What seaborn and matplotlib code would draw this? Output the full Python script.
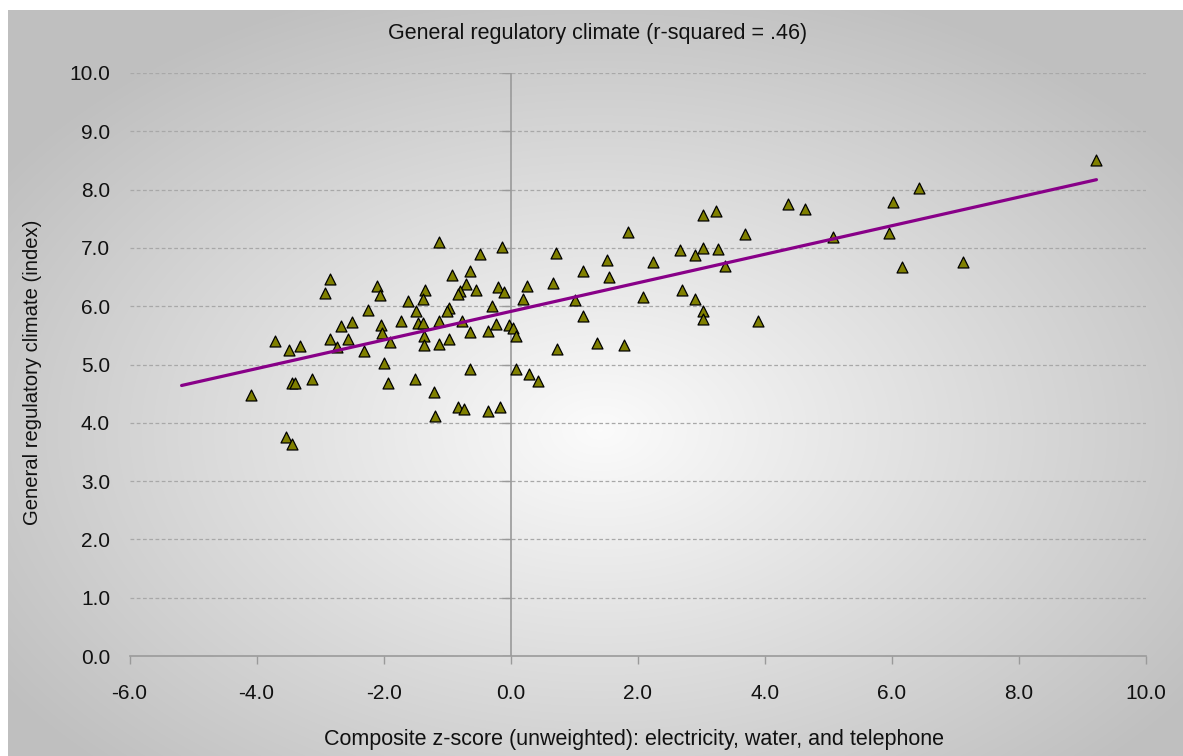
import numpy as np
import pandas as pd
import matplotlib
matplotlib.use("Agg")
import matplotlib.pyplot as plt
import seaborn as sns

# ---- data ----
x_score = [-1.13, -0.13, -0.48, -2.85, -2.92, -2.11, -2.06, -0.93, -0.64, -0.70,
           -0.79, -0.83, -0.54, -0.20, -0.10, -1.35, -1.38, -1.61, -2.25, -1.49,
           -0.97, -1.00, -0.30, -2.50, -2.67, -2.04, -2.02, -1.72, -1.46, -1.38,
           -1.13, -0.77, -1.37, -1.37, -1.13, -0.97, -0.64, -0.36, -0.23, -0.02,
           0.03, 0.09, -3.71, -3.49, -3.32, -2.85, -2.74, -2.56, -2.31, -1.90,
           -1.99, -1.93, -1.50, -1.20, -0.64, 0.09, -4.08, -3.44, -3.40, -3.12,
           -0.83, -0.73, -0.36, -0.17, -1.19, -3.53, -3.45,
           3.03, 3.23, 1.85, 3.69, 0.71, 2.66, 3.03, 3.26, 2.90, 1.51,
           2.24, 3.38, 1.14, 1.55, 0.26, 0.66, 0.19, 1.02, 2.09, 2.70,
           2.90, 3.03, 3.02, 1.14, 3.89, 0.73, 1.36, 1.79, 0.29, 0.43,
           9.21, 6.43, 4.36, 4.63, 6.01, 5.96, 5.07, 6.16, 7.12]
y_index = [7.10, 7.02, 6.89, 6.47, 6.22, 6.35, 6.19, 6.54, 6.61, 6.38,
           6.26, 6.21, 6.28, 6.33, 6.25, 6.28, 6.12, 6.09, 5.94, 5.91,
           5.97, 5.91, 6.00, 5.73, 5.66, 5.67, 5.54, 5.75, 5.72, 5.72,
           5.75, 5.75, 5.49, 5.33, 5.36, 5.44, 5.55, 5.57, 5.69, 5.67,
           5.62, 5.49, 5.40, 5.25, 5.32, 5.44, 5.30, 5.44, 5.24, 5.38,
           5.02, 4.69, 4.75, 4.53, 4.93, 4.93, 4.47, 4.69, 4.68, 4.75,
           4.27, 4.24, 4.20, 4.27, 4.12, 3.75, 3.63,
           7.56, 7.63, 7.28, 7.23, 6.91, 6.96, 6.99, 6.98, 6.88, 6.79,
           6.75, 6.69, 6.61, 6.50, 6.35, 6.39, 6.13, 6.11, 6.16, 6.27,
           6.12, 5.92, 5.78, 5.83, 5.75, 5.26, 5.37, 5.33, 4.83, 4.72,
           8.51, 8.02, 7.75, 7.66, 7.79, 7.26, 7.19, 6.68, 6.75]
trend_x = [-5.18, 9.22]
trend_y = [4.64, 8.17]
x_ticks = [-6.0, -4.0, -2.0, 0.0, 2.0, 4.0, 6.0, 8.0, 10.0]
y_ticks = [0.0, 1.0, 2.0, 3.0, 4.0, 5.0, 6.0, 7.0, 8.0, 9.0, 10.0]

title = "General regulatory climate (r-squared = .46)"
xlabel = "Composite z-score (unweighted): electricity, water, and telephone"
ylabel = "General regulatory climate (index)"

df = pd.DataFrame({"x": x_score, "y": y_index})
tdf = pd.DataFrame({"x": trend_x, "y": trend_y})

sns.set_theme(style="white")
plt.rcParams["font.family"] = ["Liberation Sans", "DejaVu Sans"]

W, H = 1183, 756
fig = plt.figure(figsize=(W / 100, H / 100), dpi=100)
fig.patch.set_facecolor("white")

# background radial gradient
bg = fig.add_axes([0, 0, 1, 1], zorder=-10)
yy, xx = np.mgrid[0:H, 0:W]
r = np.sqrt(((xx - 600) / 720.0) ** 2 + ((yy - 430) / 470.0) ** 2)
v = 0.985 - 0.235 * np.clip(r, 0, 1)
img = np.dstack([v, v, v])
img[:, :8, :] = 1.0
img[:10, :, :] = 1.0
bg.imshow(img, aspect="auto", extent=[0, W, H, 0], interpolation="bilinear")
bg.set_axis_off()

ax = fig.add_axes([129.5 / W, 1 - 656 / H, (1146 - 129.5) / W, (656 - 73) / H])
ax.set_facecolor("none")

sns.scatterplot(data=df, x="x", y="y", ax=ax, marker="^", s=62,
                color="#808000", edgecolor="black", linewidth=0.9, zorder=4)
sns.lineplot(data=tdf, x="x", y="y", ax=ax, color="#880088", linewidth=2.3,
             zorder=5, estimator=None, sort=False)

ax.set_xlim(-6, 10)
ax.set_ylim(0, 10)
ax.set_xticks(x_ticks)
ax.set_yticks(y_ticks)
ax.set_xticklabels([f"{t:.1f}" for t in x_ticks])
ax.set_yticklabels([f"{t:.1f}" for t in y_ticks])

gray = "#9a9a9a"
for s in ["top", "right", "left"]:
    ax.spines[s].set_visible(False)
ax.spines["bottom"].set_color(gray)
ax.spines["bottom"].set_linewidth(1.2)

ax.tick_params(axis="x", direction="out", length=6, width=1.0, color=gray,
               pad=14, labelsize=15, labelcolor="#111111", bottom=True)
ax.tick_params(axis="y", length=0, pad=14, labelsize=15, labelcolor="#111111", left=True)

# horizontal dashed gridlines
for t in y_ticks[1:]:
    ax.axhline(t, color="#a8a8a8", linewidth=0.9, linestyle=(0, (3, 2)), zorder=1)
# vertical axis crossing at x=0 with small ticks
ax.axvline(0, color=gray, linewidth=1.2, zorder=2)
ax.hlines(y_ticks, -0.13, 0, color=gray, linewidth=1.0, zorder=2)

ax.set_xlabel("")
ax.set_ylabel("")
fig.text(598 / W, 1 - 34 / H, title, ha="center", va="center", fontsize=15.5, color="#111111")
fig.text(634 / W, 1 - 740 / H, xlabel, ha="center", va="center", fontsize=15.5, color="#111111")
fig.text(33 / W, 1 - 372 / H, ylabel, ha="center", va="center", rotation=90, fontsize=14.6,
         color="#111111")

fig.savefig("out.png", dpi=100)
